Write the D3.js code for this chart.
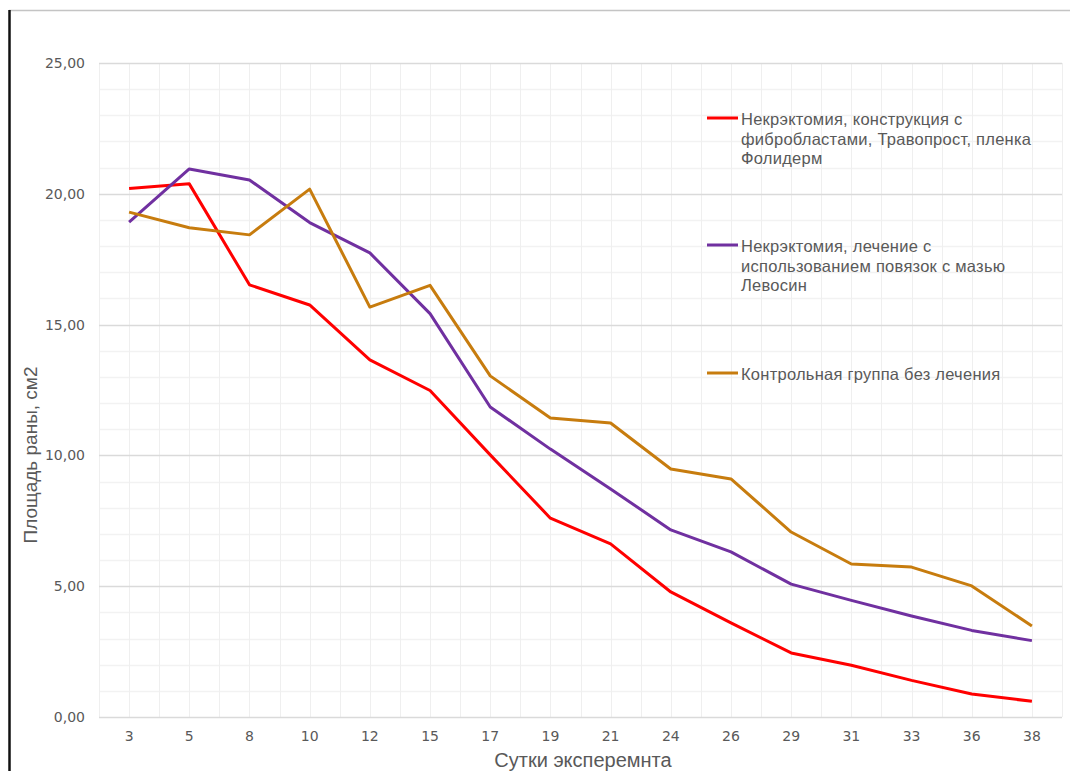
<!DOCTYPE html>
<html>
<head>
<meta charset="utf-8">
<script src="https://cdn.jsdelivr.net/npm/d3@7"></script>
<style>
  html, body { margin: 0; padding: 0; background: #fff; }
  svg { display: block; }
</style>
</head>
<body>
<svg id="chart" width="1070" height="771"></svg>
<script>
// Wound area (cm²) by day of the experiment, three groups
const days = ["3", "5", "8", "10", "12", "15", "17", "19", "21", "24", "26", "29", "31", "33", "36", "38"];
const fibroblastValues = [20.20, 20.38, 16.52, 15.75, 13.65, 12.48, 10.02, 7.60, 6.62, 4.78, 3.60, 2.45, 1.98, 1.40, 0.88, 0.60];
const levosinValues    = [18.92, 20.95, 20.53, 18.90, 17.74, 15.42, 11.85, 10.24, 8.72, 7.15, 6.31, 5.08, 4.46, 3.86, 3.31, 2.92];
const controlValues    = [19.30, 18.70, 18.43, 20.18, 15.67, 16.50, 13.04, 11.43, 11.24, 9.48, 9.10, 7.07, 5.85, 5.73, 5.01, 3.48];
const yTicks = [0, 5, 10, 15, 20, 25];
const seriesNames = [
  ["Некрэктомия, конструкция с", "фибробластами, Травопрост, пленка", "Фолидерм"],
  ["Некрэктомия, лечение  с", "использованием повязок с мазью", "Левосин"],
  ["Контрольная группа без лечения"]
];
const seriesColors = ["#ff0000", "#7030a0", "#c77c0e"];
const seriesValues = [fibroblastValues, levosinValues, controlValues];

const svg = d3.select("#chart");
const plot = { left: 99, right: 1062, top: 63, bottom: 717 };

const x = d3.scaleBand().domain(days).range([plot.left, plot.right]).padding(0);
const y = d3.scaleLinear().domain([0, 25]).range([plot.bottom, plot.top]);
const xc = d => x(d) + x.bandwidth() / 2;

// frame lines at the top and left of the picture
svg.append("line").attr("x1", 9).attr("x2", 1070).attr("y1", 10.5).attr("y2", 10.5)
  .attr("stroke", "#c4c4c4").attr("stroke-width", 1.5);
svg.append("line").attr("x1", 9.5).attr("x2", 9.5).attr("y1", 10).attr("y2", 771)
  .attr("stroke", "#111").attr("stroke-width", 2.5);

// grid: minor horizontal every 1, major every 5; vertical at band edges and centres
const grid = svg.append("g");
d3.range(0, 26).filter(v => v % 5 !== 0).forEach(v => {
  grid.append("line").attr("x1", plot.left).attr("x2", plot.right)
    .attr("y1", Math.round(y(v)) + 0.5).attr("y2", Math.round(y(v)) + 0.5)
    .attr("stroke", "#f2f2f2").attr("stroke-width", 1.5);
});
const vx = [];
days.forEach(d => { vx.push(x(d)); vx.push(xc(d)); });
vx.push(plot.right);
vx.forEach(px => {
  grid.append("line").attr("x1", Math.round(px) + 0.5).attr("x2", Math.round(px) + 0.5)
    .attr("y1", plot.top).attr("y2", plot.bottom)
    .attr("stroke", "#efefef").attr("stroke-width", 1);
});
yTicks.forEach(v => {
  grid.append("line").attr("x1", plot.left).attr("x2", plot.right)
    .attr("y1", Math.round(y(v)) + 0.5).attr("y2", Math.round(y(v)) + 0.5)
    .attr("stroke", "#dadada").attr("stroke-width", 1.5);
});

// axes
const fmt = v => d3.format(".2f")(v).replace(".", ",");
const yAxis = svg.append("g").attr("transform", `translate(${plot.left},0)`)
  .call(d3.axisLeft(y).tickValues(yTicks).tickFormat(fmt).tickSize(0).tickPadding(14));
const xAxis = svg.append("g").attr("transform", `translate(0,${plot.bottom})`)
  .call(d3.axisBottom(x).tickSize(0).tickPadding(14));
[yAxis, xAxis].forEach(a => {
  a.select(".domain").remove();
  a.selectAll("text").attr("fill", "#595959")
    .style("font-family", "'DejaVu Sans', Verdana, sans-serif").style("font-size", "14px");
});

// axis titles
svg.append("text").attr("x", 583).attr("y", 767)
  .attr("text-anchor", "middle").attr("fill", "#595959")
  .style("font-family", "'Liberation Sans', Arial, sans-serif").style("font-size", "20px")
  .text("Сутки эксперемнта");
svg.append("text").attr("transform", "translate(37,455) rotate(-90)")
  .attr("text-anchor", "middle").attr("fill", "#595959")
  .style("font-family", "'Liberation Sans', Arial, sans-serif").style("font-size", "19px")
  .text("Площадь раны, см2");

// series lines
const line = d3.line().x((v, i) => xc(days[i])).y(v => y(v));
seriesValues.forEach((vals, k) => {
  svg.append("path").datum(vals).attr("d", line).attr("fill", "none")
    .attr("stroke", seriesColors[k]).attr("stroke-width", 3)
    .attr("stroke-linejoin", "round");
});

// legend
const legendTops = [118, 245, 373];
seriesNames.forEach((lines, k) => {
  const g = svg.append("g");
  g.append("line").attr("x1", 707).attr("x2", 738)
    .attr("y1", legendTops[k]).attr("y2", legendTops[k])
    .attr("stroke", seriesColors[k]).attr("stroke-width", 3);
  lines.forEach((t, j) => {
    g.append("text").attr("x", 741).attr("y", legendTops[k] + 7 + j * 19.7)
      .attr("fill", "#595959")
      .style("font-family", "'Liberation Sans', Arial, sans-serif").style("font-size", "16.5px")
      .style("letter-spacing", "0.25px")
      .text(t);
  });
});
</script>
</body>
</html>
